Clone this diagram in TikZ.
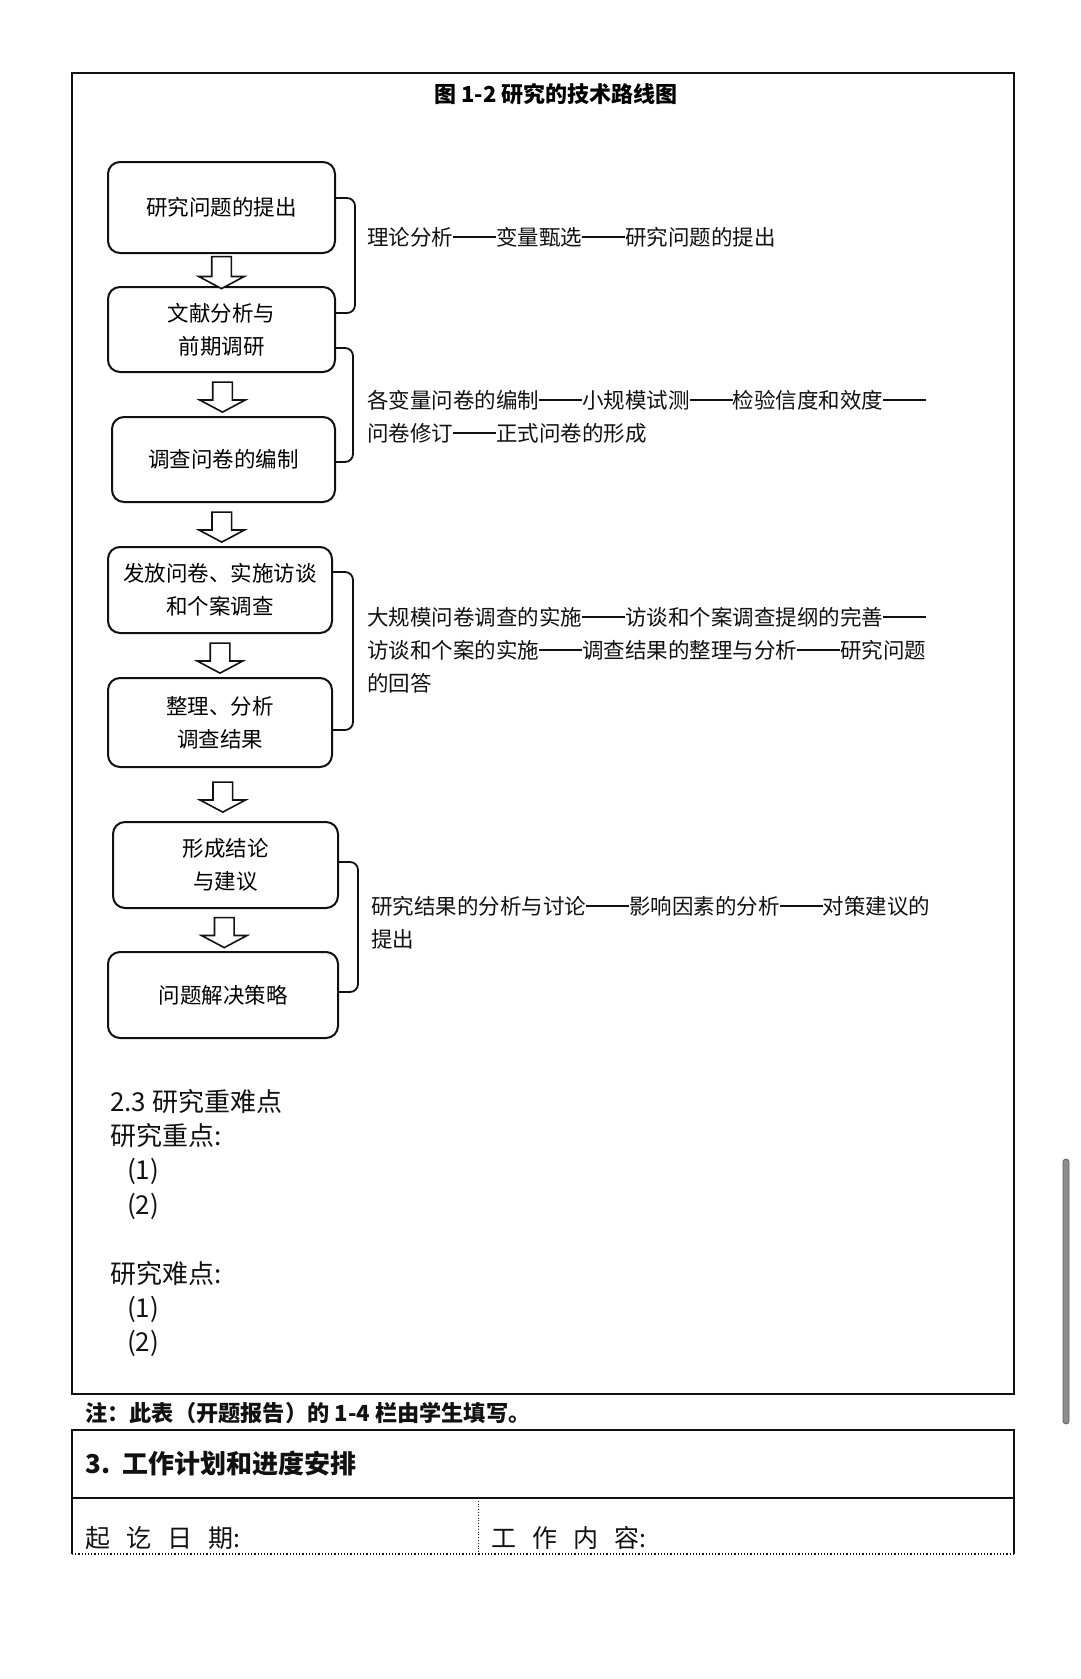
\documentclass[tikz,border=0pt]{standalone}
\usepackage{fontspec}
\setmainfont{Noto Sans CJK SC}
\usepackage{tikz}
\usetikzlibrary{shapes.arrows,positioning,calc}
\definecolor{inkBlack}{HTML}{111111}
\definecolor{barGray}{HTML}{8C8C8C}
\newcommand{\dashlink}{\rule[0.34em]{2em}{0.075em}}

\begin{document}
\begin{tikzpicture}[
    x=1pt, y=-1pt,
    stepbox/.style={rectangle, draw=inkBlack, line width=2pt, rounded corners=12pt, fill=white, align=center, font=\fontsize{21.5}{33}\selectfont, inner sep=0pt},
    flowarrow/.style={single arrow, draw=inkBlack, line width=1.6pt, fill=white, rotate=-90, minimum height=30pt, inner xsep=0pt, inner ysep=9pt, single arrow head extend=13pt, single arrow tip angle=124},
    brace/.style={draw=inkBlack, line width=1.8pt, rounded corners=8pt},
    noteText/.style={anchor=west, align=left, inner sep=0pt, text=inkBlack, font=\fontsize{21.5}{33}\selectfont},
    bigText/.style={anchor=west, align=left, inner sep=0pt, text=inkBlack, font=\fontsize{26}{34.4}\selectfont},
    headText/.style={anchor=west, inner sep=0pt, text=inkBlack, font=\bfseries\fontsize{22.2}{26}\selectfont}
]

% page and frame
\fill[white] (0,0) rectangle (1080,1679);
\useasboundingbox (0,0) rectangle (1080,1679);
\draw[inkBlack, line width=1.5pt] (72,73) rectangle (1014,1394);

\node[inner sep=0pt, font=\bfseries\fontsize{22}{26}\selectfont] (title) at (556,94) {图 1-2\ 研究的技术路线图};

% flow boxes
\node[stepbox, minimum width=227pt, minimum height=91pt] (b1) at (221.5,207.5) {研究问题的提出};
\node[stepbox, minimum width=227pt, minimum height=85pt, below=32pt of b1] (b2) {文献分析与\\前期调研};
\node[stepbox, minimum width=223pt, minimum height=85pt, below=43pt of b2, xshift=2pt] (b3) {调查问卷的编制};
\node[stepbox, minimum width=224pt, minimum height=86pt, below=43pt of b3, xshift=-3.5pt] (b4) {发放问卷、实施访谈\\和个案调查};
\node[stepbox, minimum width=224pt, minimum height=89pt, below=43pt of b4] (b5) {整理、分析\\调查结果};
\node[stepbox, minimum width=225pt, minimum height=86pt, below=53pt of b5, xshift=5.5pt] (b6) {形成结论\\与建议};
\node[stepbox, minimum width=230pt, minimum height=86pt, below=42pt of b6, xshift=-2.5pt] (b7) {问题解决策略};

% hollow arrows between boxes
\node[flowarrow, minimum height=32pt] (a12) at ($(b1.south)!0.5!(b2.north)$) {};
\node[flowarrow] (a23) at ($(b2.south)!0.5!(b3.north)$) {};
\node[flowarrow] (a34) at ($(b3.south)!0.5!(b4.north)$) {};
\node[flowarrow] (a45) at ($(b4.south)!0.5!(b5.north)$) {};
\node[flowarrow] (a56) at ($(b5.south)!0.5!(b6.north)$) {};
\node[flowarrow] (a67) at ($(b6.south)!0.5!(b7.north)$) {};

% brackets
\draw[brace] (b1.east |- 0,198) -- ++(19pt,0) |- (b2.east |- 0,313);
\draw[brace] (b2.east |- 0,348) -- ++(17pt,0) |- (b3.east |- 0,462);
\draw[brace] (b4.east |- 0,572) -- ++(20pt,0) |- (b5.east |- 0,730);
\draw[brace] (b6.east |- 0,862) -- ++(19pt,0) |- (b7.east |- 0,992);

\node[noteText] (t1) at (367,237) {理论分析\dashlink 变量甄选\dashlink 研究问题的提出};
\node[noteText] (t2) at (367,416.5) {各变量问卷的编制\dashlink 小规模试测\dashlink 检验信度和效度\dashlink\\问卷修订\dashlink 正式问卷的形成};
\node[noteText] (t3) at (367,650) {大规模问卷调查的实施\dashlink 访谈和个案调查提纲的完善\dashlink\\访谈和个案的实施\dashlink 调查结果的整理与分析\dashlink 研究问题\\的回答};
\node[noteText] (t4) at (371,922.5) {研究结果的分析与讨论\dashlink 影响因素的分析\dashlink 对策建议的\\提出};

% key points
\node[bigText] (keys) at (110,1223) {2.3 研究重难点\\研究重点:\\\hspace*{17pt}(1)\\\hspace*{17pt}(2)\\\mbox{}\\研究难点:\\\hspace*{17pt}(1)\\\hspace*{17pt}(2)};

% lower table
\node[headText] (remark) at (85,1413) {注：此表（开题报告）的 1-4 栏由学生填写。};
\draw[inkBlack, line width=1.5pt] (72,1554) -- (72,1430) -- (1014,1430) -- (1014,1554);
\draw[inkBlack, line width=1.5pt] (72,1498) -- (1014,1498);
\draw[inkBlack, line width=1.2pt, dotted] (72,1554) -- (1014,1554);
\draw[inkBlack, line width=0.8pt, dotted] (478,1498) -- (478,1554);
\node[headText, font=\bfseries\fontsize{26}{30}\selectfont] (plan) at (85,1464) {3.\ \ 工作计划和进度安排};
\node[headText, font=\fontsize{25}{30}\selectfont] (dates) at (85,1538) {起\hspace{16pt}讫\hspace{16pt}日\hspace{16pt}期:};
\node[headText, font=\fontsize{25}{30}\selectfont] (work) at (491,1538) {工\hspace{16pt}作\hspace{16pt}内\hspace{16pt}容:};

% scroll bar
\draw[barGray!70!black, fill=barGray, rounded corners=3pt, line width=0.8pt] (1063,1159) rectangle (1069,1424);

\end{tikzpicture}
\end{document}
